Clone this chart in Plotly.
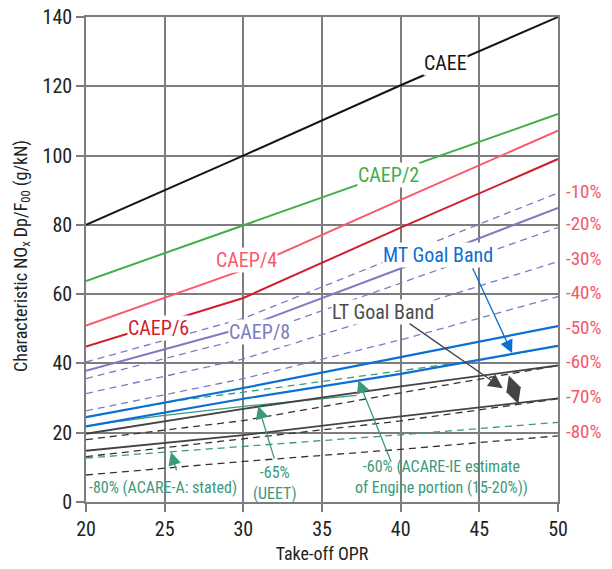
import plotly.graph_objects as go

# ---------------- data ----------------
OPR = [20, 30, 40, 50]

caee = [80.0, 100.0, 120.3, 140.0]
caep2 = [63.8, 79.9, 96.0, 112.0]
caep4 = [50.9, 67.0, 87.2, 107.2]
caep6 = [44.9, 58.9, 79.2, 99.0]
caep8 = [37.9, 50.3, 67.4, 84.9]

lav_m10 = [40.4, 53.0, 71.2, 89.2]
lav_m20 = [35.6, 47.2, 63.2, 79.2]
lav_m30 = [31.3, 41.3, 55.3, 69.4]
lav_m40 = [26.3, 35.6, 46.8, 59.3]

mt_upper = [24.5, 32.9, 41.8, 50.8]
mt_lower = [21.8, 29.8, 37.0, 45.1]
lt_upper = [19.7, 26.9, 33.4, 39.4]
lt_lower = [14.8, 19.3, 24.7, 29.9]

blk_m60 = [18.0, 23.5, 31.5, 39.4]
blk_m70 = [13.1, 18.2, 23.4, 29.8]
blk_m80 = [7.8, 11.7, 15.2, 19.1]

grn_low = [12.7, 16.0, 19.4, 23.0]
grn_up_x = [20, 25.7, 30, 40, 45.5, 50]
grn_up_y = [24.5, 29.2, 31.7, 37.8, 41.3, 45.1]
ueet_x = [20, 21.6, 25, 30, 37.2]
ueet_y = [21.8, 23.0, 25.0, 27.6, 30.8]

pct_labels = ["-10%", "-20%", "-30%", "-40%", "-50%", "-60%", "-70%", "-80%"]
pct_levels = [89.6, 80.4, 70.3, 60.5, 50.5, 40.5, 30.4, 20.4]

x_ticks = [20, 25, 30, 35, 40, 45, 50]
y_ticks = [0, 20, 40, 60, 80, 100, 120, 140]

# ---------------- styles ----------------
FONT = "Roboto Condensed, Liberation Sans Narrow, Roboto, sans-serif"
C_CAEE = "#151515"
C_C2 = "#3fae49"
C_C4 = "#f95a6c"
C_C6 = "#cf1f2d"
C_C8 = "#7d7bc2"
C_BLUE = "#0b6fd4"
C_GRAY = "#444444"
C_BDASH = "#333333"
C_GRN = "#3b9a7b"
C_PCT = "#f5566b"
GRID = "#7d7d7d"
TXT = "#222222"

fig = go.Figure()


def add_line(x, y, color, width, dash="solid"):
    fig.add_trace(go.Scatter(x=x, y=y, mode="lines",
                             line=dict(color=color, width=width, dash=dash),
                             hoverinfo="skip", showlegend=False))


DASH = "7px,5px"
for s in (lav_m10, lav_m20, lav_m30, lav_m40):
    add_line(OPR, s, C_C8, 1.3, DASH)
add_line(OPR, blk_m60, C_BDASH, 1.3, DASH)
add_line(OPR, blk_m70, C_BDASH, 1.3, DASH)
add_line(OPR, blk_m80, C_BDASH, 1.3, DASH)
add_line(OPR, grn_low, C_GRN, 1.3, DASH)
add_line(grn_up_x, grn_up_y, C_GRN, 1.3, DASH)
add_line(ueet_x, ueet_y, C_GRN, 1.3)

add_line(OPR, lt_upper, C_GRAY, 1.8)
add_line(OPR, lt_lower, C_GRAY, 1.8)
add_line(OPR, mt_upper, C_BLUE, 2.2)
add_line(OPR, mt_lower, C_BLUE, 2.2)

add_line(OPR, caep8, C_C8, 2.0)
add_line(OPR, caep6, C_C6, 2.0)
add_line(OPR, caep4, C_C4, 2.0)
add_line(OPR, caep2, C_C2, 2.0)
add_line(OPR, caee, C_CAEE, 2.0)

ann = []


def label(text, x, y, color, size=20, bg="white", **kw):
    d = dict(text=text, x=x, y=y, xref="x", yref="y", showarrow=False,
             font=dict(family=FONT, size=size, color=color),
             bgcolor=bg, borderpad=0)
    d.update(kw)
    ann.append(d)


label("CAEE", 42.85, 126.7, C_CAEE)
label("CAEP/2", 39.2, 94.4, C_C2)
label("CAEP/4", 30.2, 69.9, C_C4)
label("CAEP/6", 24.6, 50.2, C_C6)
label("CAEP/8", 31.0, 49.1, C_C8)
label("MT Goal Band", 42.4, 71.3, C_BLUE)
label("LT Goal Band", 38.9, 54.8, "#4d4d4d")
label("-80% (ACARE-A: stated)", 24.9, 4.3, C_GRN, size=16, bg="rgba(0,0,0,0)")
label("-65%<br>(UEET)", 32.0, 5.4, C_GRN, size=16, bg="rgba(0,0,0,0)")
label("-60% (ACARE-IE estimate<br>of Engine portion (15-20%))", 42.6, 7.2, C_GRN,
      size=16, bg="rgba(0,0,0,0)")


def arrow(x, y, ax, ay, color, width=1.3, size=1.6, head=2, both=False):
    d = dict(x=x, y=y, ax=ax, ay=ay, xref="x", yref="y", axref="x", ayref="y",
             text="", showarrow=True, arrowcolor=color, arrowwidth=width,
             arrowsize=size, arrowhead=head)
    if both:
        d.update(arrowside="end+start", startarrowhead=head, startarrowsize=size)
    ann.append(d)


arrow(47.08, 43.0, 44.53, 67.9, C_BLUE, 1.3, 2.0)
arrow(46.49, 32.8, 40.47, 51.8, C_GRAY, 1.3, 2.2)
arrow(47.48, 28.3, 46.84, 36.95, C_GRAY, 1.3, 2.4, both=True)
arrow(25.40, 14.4, 25.78, 8.66, C_GRN, 1.3, 2.0)
arrow(30.95, 27.7, 32.0, 12.1, C_GRN, 1.3, 2.0)
arrow(37.31, 35.2, 39.43, 11.2, C_GRN, 1.3, 2.0)

for t, v in zip(pct_labels, pct_levels):
    ann.append(dict(text=t, x=1.013, y=v, xref="paper", yref="y",
                    xanchor="left", yanchor="middle", showarrow=False,
                    font=dict(family=FONT, size=19, color=C_PCT)))

ann.append(dict(text="Characteristic NO<sub>x</sub> Dp/F<sub>00</sub> (g/kN)",
                x=-0.136, y=0.507, xref="paper", yref="paper", textangle=-90,
                showarrow=False, xanchor="center", yanchor="middle",
                font=dict(family=FONT, size=18, color=TXT)))

fig.update_layout(
    width=612, height=569,
    margin=dict(l=86, r=54, t=17, b=67),
    plot_bgcolor="white", paper_bgcolor="white",
    showlegend=False,
    annotations=ann,
    shapes=[dict(type="line", xref="paper", yref="y", x0=0, x1=1, y0=80, y1=80,
                 line=dict(color="#111111", width=1.2), layer="below")],
    font=dict(family=FONT, color=TXT),
)
fig.update_xaxes(range=[20, 50], tickvals=x_ticks, showgrid=True, gridcolor=GRID,
                 gridwidth=1.6, showline=True, linecolor=GRID, linewidth=1.6,
                 mirror=True, ticks="outside", ticklen=8, tickcolor=GRID,
                 tickwidth=1.6, zeroline=False, automargin=False,
                 tickfont=dict(family=FONT, size=20, color=TXT),
                 title=dict(text="Take-off OPR", standoff=8,
                            font=dict(family=FONT, size=18, color=TXT)))
fig.update_yaxes(range=[0, 140], tickvals=y_ticks, showgrid=True, gridcolor=GRID,
                 gridwidth=1.6, showline=True, linecolor=GRID, linewidth=1.6,
                 mirror=True, ticks="outside", ticklen=8, tickcolor=GRID,
                 tickwidth=1.6, zeroline=True, zerolinecolor="#111111",
                 zerolinewidth=1.6, automargin=False,
                 tickfont=dict(family=FONT, size=20, color=TXT))

# remove the page's default body margin so the 612x569 figure fills the window
fig.write_html("out.html",
               config={"displayModeBar": False},
               post_script="document.body.style.margin='0px';"
                           "document.body.style.overflow='hidden';")
